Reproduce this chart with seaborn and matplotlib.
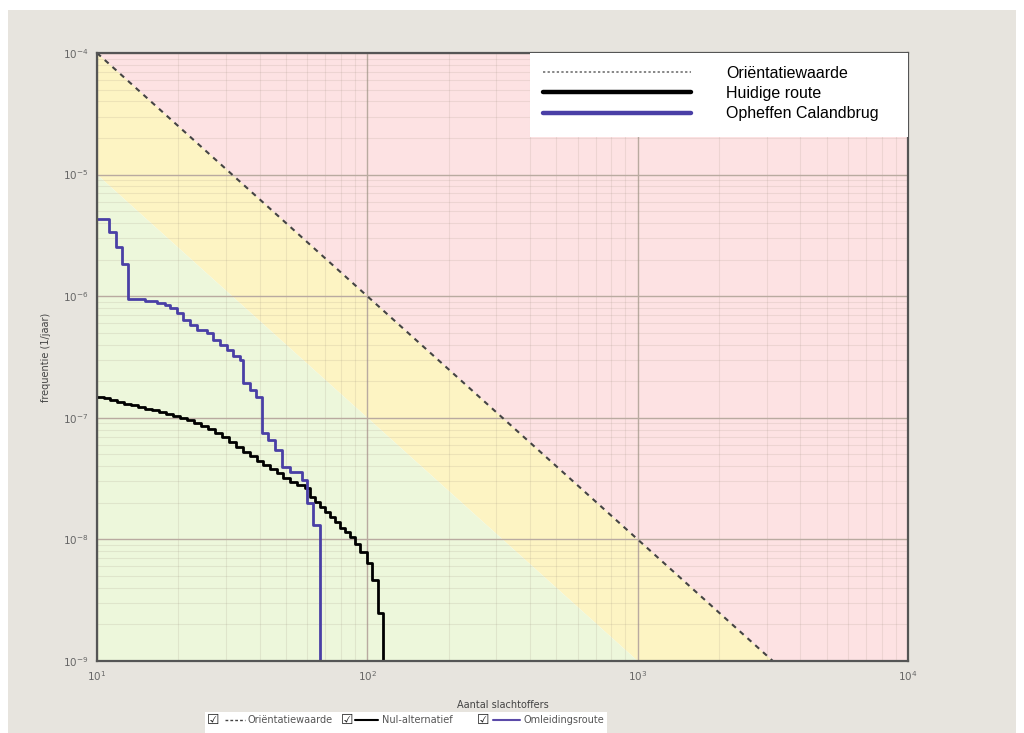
import matplotlib
matplotlib.use("Agg")
import matplotlib.pyplot as plt
import seaborn as sns
import pandas as pd
from matplotlib.lines import Line2D
from matplotlib.patches import Rectangle
from matplotlib.ticker import LogLocator, NullFormatter

# ---------------- data ----------------
# Opheffen Calandbrug (blue step curve): N, F
blue_n = [10.0, 11.08, 11.76, 12.38, 13.02, 15.07, 16.7, 17.9, 18.6, 19.8,
          20.8, 22.1, 23.5, 25.5, 26.9, 28.6, 30.3, 31.9, 33.9, 34.7,
          36.9, 38.8, 40.8, 43.0, 45.6, 48.4, 51.9, 57.4, 60.0, 63.1, 67.0]
blue_f = [4.32e-6, 3.37e-6, 2.54e-6, 1.84e-6, 9.48e-7, 9.1e-7, 8.8e-7, 8.47e-7, 8.0e-7, 7.27e-7,
          6.37e-7, 5.8e-7, 5.27e-7, 4.98e-7, 4.36e-7, 3.97e-7, 3.61e-7, 3.22e-7, 2.99e-7, 1.93e-7,
          1.69e-7, 1.48e-7, 7.5e-8, 6.6e-8, 5.43e-8, 3.94e-8, 3.58e-8, 3.08e-8, 1.99e-8, 1.31e-8, 1e-10]

# Huidige route (black step curve): N, F
black_n = [10.0, 10.61, 11.17, 11.86, 12.59, 13.36, 14.19, 15.06, 15.99, 16.97,
           18.01, 19.12, 20.30, 21.54, 22.87, 24.28, 25.77, 27.35, 29.04, 30.83,
           32.72, 34.73, 36.87, 39.14, 41.19, 43.72, 46.42, 48.86, 51.86, 55.05,
           58.94, 61.5, 64.2, 66.97, 69.9, 72.9, 76.1, 79.4, 82.9, 86.5,
           90.3, 94.2, 100.0, 104.4, 109.8, 114.6]
black_f = [1.483e-7, 1.455e-7, 1.40e-7, 1.349e-7, 1.298e-7, 1.274e-7, 1.227e-7, 1.18e-7, 1.159e-7, 1.116e-7,
           1.074e-7, 1.035e-7, 9.95e-8, 9.59e-8, 9.06e-8, 8.57e-8, 8.09e-8, 7.50e-8, 6.95e-8, 6.32e-8,
           5.75e-8, 5.23e-8, 4.85e-8, 4.41e-8, 4.09e-8, 3.79e-8, 3.52e-8, 3.20e-8, 2.96e-8, 2.80e-8,
           2.65e-8, 2.23e-8, 2.03e-8, 1.85e-8, 1.68e-8, 1.53e-8, 1.39e-8, 1.24e-8, 1.15e-8, 1.05e-8,
           9.17e-9, 7.87e-9, 6.39e-9, 4.63e-9, 2.48e-9, 1e-10]

# Oriëntatiewaarde line and lower bound of the yellow band (end points)
orient_n = [10.0, 1e4]
orient_f = [1e-4, 1e-10]
band_n = [10.0, 1e4]
band_f = [1e-5, 1e-11]

x_ticks = [1e1, 1e2, 1e3, 1e4]
x_tick_labels = [r"$10^{1}$", r"$10^{2}$", r"$10^{3}$", r"$10^{4}$"]
y_ticks = [1e-9, 1e-8, 1e-7, 1e-6, 1e-5, 1e-4]
y_tick_labels = [r"$10^{-9}$", r"$10^{-8}$", r"$10^{-7}$", r"$10^{-6}$", r"$10^{-5}$", r"$10^{-4}$"]

legend_labels = ["Oriëntatiewaarde", "Huidige route", "Opheffen Calandbrug"]
bottom_labels = ["Oriëntatiewaarde", "Nul-alternatief", "Omleidingsroute"]

# ---------------- style ----------------
sns.set_theme(style="white")
plt.rcParams['font.family'] = ['Liberation Sans', 'DejaVu Sans']
plt.rcParams['mathtext.fontset'] = 'dejavusans'

BLUE = "#4a3fa6"
PINK = "#fde2e3"
YELLOW = "#fdf4c3"
GREEN = "#edf7db"
BG = "#e7e4de"

fig = plt.figure(figsize=(10.24, 7.33), dpi=100)
fig.patch.set_facecolor("white")
fig.patches.append(Rectangle((8 / 1024, 0), 1008 / 1024, 723 / 733, transform=fig.transFigure,
                             facecolor=BG, edgecolor="none", zorder=-10))

ax = fig.add_axes([97 / 1024, 72 / 733, 811 / 1024, 608 / 733])
ax.set_xscale("log")
ax.set_yscale("log")
ax.set_xlim(10, 1e4)
ax.set_ylim(1e-9, 1e-4)

# zones
ax.fill_between(orient_n, orient_f, [1.0, 1.0], color=PINK, lw=0, zorder=0.1)
ax.fill_between(orient_n, band_f, orient_f, color=YELLOW, lw=0, zorder=0.1)
ax.fill_between(band_n, [1e-14, 1e-14], band_f, color=GREEN, lw=0, zorder=0.1)

# ticks and grid
ax.set_axisbelow(True)
ax.set_xticks(x_ticks)
ax.set_xticklabels(x_tick_labels)
ax.set_yticks(y_ticks)
ax.set_yticklabels(y_tick_labels)
ax.xaxis.set_minor_locator(LogLocator(base=10, subs=range(2, 10), numticks=50))
ax.yaxis.set_minor_locator(LogLocator(base=10, subs=range(2, 10), numticks=50))
ax.xaxis.set_minor_formatter(NullFormatter())
ax.yaxis.set_minor_formatter(NullFormatter())
ax.grid(True, which="major", color="#b9aaa0", linewidth=1.0, alpha=1.0)
ax.grid(True, which="minor", color="#9a8c7c", linewidth=0.8, alpha=0.16)
ax.tick_params(axis="both", which="both", length=0, labelsize=7.5, labelcolor="#666666")
ax.tick_params(axis="x", pad=6)
ax.tick_params(axis="y", pad=6)

# lines
sns.lineplot(x=orient_n, y=orient_f, ax=ax, color="#444444", lw=1.5,
             linestyle=(0, (2.5, 2.5)), zorder=3, sort=False, estimator=None)
sns.lineplot(x=black_n, y=black_f, ax=ax, color="black", lw=2.0,
             drawstyle="steps-post", zorder=4, sort=False, estimator=None)
sns.lineplot(x=blue_n, y=blue_f, ax=ax, color=BLUE, lw=2.0,
             drawstyle="steps-post", zorder=5, sort=False, estimator=None)

for sp in ax.spines.values():
    sp.set_color("#555555")
    sp.set_linewidth(1.6)
    sp.set_zorder(6)

ax.set_xlabel("Aantal slachtoffers", fontsize=7, color="#444444", family=["DejaVu Sans"])
ax.xaxis.set_label_coords(0.5, -(700 - 661) / 608)
ax.set_ylabel("frequentie (1/jaar)", fontsize=7, color="#444444", family=["DejaVu Sans"])
ax.yaxis.set_label_coords((51 - 97) / 811, 0.5)

# top legend: white panel in the upper right corner, entries on top of it
ax.add_patch(Rectangle(((530 - 97) / 811, (661 - 137) / 608), (908 - 530) / 811, 84 / 608,
                       transform=ax.transAxes, facecolor="white", edgecolor="none", zorder=9))
handles = [Line2D([], [], color="#666666", lw=1.1, linestyle=(0, (1.5, 1.5))),
           Line2D([], [], color="black", lw=3.2),
           Line2D([], [], color=BLUE, lw=3.2)]
leg = ax.legend(handles, legend_labels, loc="upper left",
                bbox_to_anchor=((530 - 97) / 811, 1.0),
                borderaxespad=0.0, frameon=False,
                fontsize=11.5, handlelength=9.3, handletextpad=2.2, labelspacing=0.33,
                borderpad=0.8)
leg.set_zorder(10)
for t in leg.get_texts():
    t.set_color("black")

# bottom legend (check-box style)
fig.patches.append(Rectangle((205 / 1024, 0), 402 / 1024, 21 / 733, transform=fig.transFigure,
                             facecolor="white", edgecolor="none", zorder=-5))
yc = 1 - 720 / 733
items = [(213, 225, 245, 248, "#444444", (0, (2, 1.5)), 1.0),
         (347, 355, 378, 382, "black", "-", 1.5),
         (483, 493, 520, 523, "#5b4aa8", "-", 1.5)]
for (cb, l0, l1, tx, col, ls, lw), lab in zip(items, bottom_labels):
    fig.text(cb / 1024, yc, "\u2611", fontsize=10, ha="center", va="center",
             color="#222222", family=["DejaVu Sans"])
    fig.lines.append(Line2D([l0 / 1024, l1 / 1024], [yc, yc], transform=fig.transFigure,
                            color=col, lw=lw, linestyle=ls))
    fig.text(tx / 1024, yc, lab, fontsize=7, ha="left", va="center",
             color="#555555", family=["DejaVu Sans"])

fig.savefig("out.png", dpi=100, facecolor=fig.get_facecolor())
